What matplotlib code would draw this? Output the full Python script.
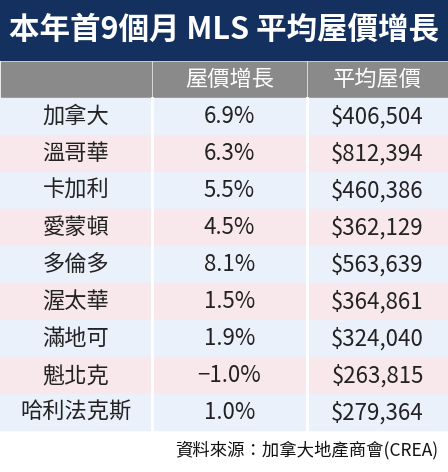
import matplotlib.pyplot as plt
from matplotlib.patches import Rectangle

plt.rcParams['font.family'] = ['Noto Sans CJK TC', 'DejaVu Sans']

title = '本年首9個月 MLS 平均屋價增長'
headers = ['', '屋價增長', '平均屋價']
cities = ['加拿大', '溫哥華', '卡加利', '愛蒙頓', '多倫多', '渥太華', '滿地可', '魁北克', '哈利法克斯']
growth = ['6.9%', '6.3%', '5.5%', '4.5%', '8.1%', '1.5%', '1.9%', '−1.0%', '1.0%']
prices = ['$406,504', '$812,394', '$460,386', '$362,129', '$563,639',
          '$364,861', '$324,040', '$263,815', '$279,364']
source = '資料來源：加拿大地產商會(CREA)'

W, H = 448, 472
fig = plt.figure(figsize=(W / 100, H / 100), dpi=100)
ax = fig.add_axes([0, 0, 1, 1])
ax.set_xlim(0, W)
ax.set_ylim(H, 0)
ax.axis('off')

col_x = [0, 152, 307, 448]
ax.add_patch(Rectangle((0, 0), W, 60, color='#13305e'))
ax.text(W / 2, 30, title, color='white', fontsize=22, fontweight='bold',
        ha='center', va='center')

# header row
y0, rh = 62, 35
for i in range(3):
    ax.add_patch(Rectangle((col_x[i] + 1, y0), col_x[i + 1] - col_x[i] - 2, rh, color='#8a8a8a'))
    ax.text((col_x[i] + col_x[i + 1]) / 2, y0 + rh / 2, headers[i], color='white',
            fontsize=16, ha='center', va='center')

# data rows
top, rh = 98, 37
row_colors = ['#eaf1fb', '#f8e8ec']
for r, row in enumerate(zip(cities, growth, prices)):
    y = top + r * rh
    ax.add_patch(Rectangle((0, y), W, rh - 1, color=row_colors[r % 2]))
    for i in range(3):
        ax.text((col_x[i] + col_x[i + 1]) / 2, y + rh / 2, row[i], color='#222222',
                fontsize=16, ha='center', va='center')
for xv in col_x[1:3]:
    ax.plot([xv, xv], [top, top + 9 * rh], color='white', lw=2)

ax.text(W - 10, 450, source, fontsize=12.5, ha='right', va='center', color='#111111')

fig.savefig('out.png', dpi=100)
